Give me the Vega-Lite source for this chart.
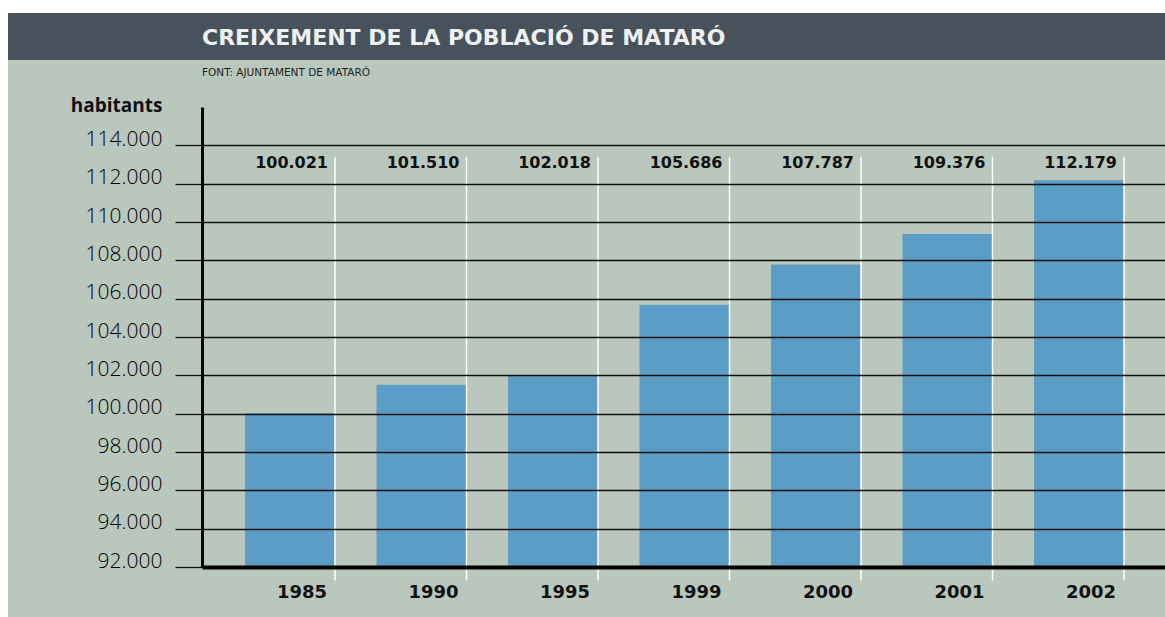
{
  "$schema": "https://vega.github.io/schema/vega-lite/v6.json",
  "background": "white",
  "padding": {"left": 8, "top": 13, "right": 0, "bottom": 0},
  "spacing": 0,
  "bounds": "flush",
  "config": {
    "locale": {"number": {"decimal": ",", "thousands": ".", "grouping": [3], "currency": ["", " €"]}},
    "font": "Open Sans",
    "view": {"stroke": null},
    "concat": {"spacing": 0}
  },
  "vconcat": [
    {
      "width": 1157,
      "height": 47,
      "view": {"fill": "#48525c", "stroke": null},
      "title": {
        "text": "CREIXEMENT DE LA POBLACIÓ DE MATARÓ",
        "anchor": "start",
        "frame": "group",
        "dx": 194,
        "offset": -54,
        "baseline": "alphabetic",
        "font": "DejaVu Sans",
        "fontSize": 22,
        "fontWeight": "bold",
        "color": "#eef1f1"
      },
      "data": {"values": [{"t": ""}]},
      "mark": {"type": "text"},
      "encoding": {"text": {"field": "t", "type": "nominal"}}
    },
    {
      "spacing": 0,
      "bounds": "flush",
      "hconcat": [
        {
          "width": 194,
          "height": 557,
          "view": {"fill": "#bac7bd", "stroke": null},
          "data": {"values": [{"t": ""}]},
          "mark": {"type": "text"},
          "encoding": {"text": {"field": "t", "type": "nominal"}}
        },
        {
          "width": 963,
          "height": 557,
          "view": {"fill": "#bac7bd", "stroke": null},
          "title": {
            "text": "FONT: AJUNTAMENT DE MATARÓ",
            "anchor": "start",
            "frame": "group",
            "offset": -26,
            "baseline": "alphabetic",
            "font": "DejaVu Sans",
            "fontSize": 10.5,
            "fontWeight": "normal",
            "color": "#1e1e1e"
          },
          "data": {
            "values": [
              {"any": "1985", "habitants": 100021},
              {"any": "1990", "habitants": 101510},
              {"any": "1995", "habitants": 102018},
              {"any": "1999", "habitants": 105686},
              {"any": "2000", "habitants": 107787},
              {"any": "2001", "habitants": 109376},
              {"any": "2002", "habitants": 112179}
            ]
          },
          "encoding": {
            "x": {
              "field": "any",
              "type": "ordinal",
              "scale": {"type": "band", "paddingInner": 0.3156, "paddingOuter": 0.3194, "align": 0.512},
              "axis": {
                "title": null,
                "orient": "bottom",
                "offset": -50,
                "ticks": false,
                "labelAlign": "right",
                "labelOffset": 37,
                "labelPadding": 30,
                "labelBaseline": "alphabetic",
                "labelFont": "DejaVu Sans",
                "labelFontSize": 18,
                "labelFontWeight": "bold",
                "labelColor": "#111",
                "labelAngle": 0,
                "domainColor": "#000",
                "domainWidth": 4,
                "grid": false,
                "zindex": 1
              }
            }
          },
          "layer": [
            {
              "mark": {"type": "bar", "color": "#5b9dc4"},
              "encoding": {
                "y": {
                  "field": "habitants",
                  "type": "quantitative",
                  "scale": {"domain": [92000, 116000], "range": [507, 47], "zero": false, "nice": false},
                  "axis": {
                    "title": "habitants",
                    "titleAngle": 0,
                    "titleAlign": "right",
                    "titleBaseline": "alphabetic",
                    "titleX": -40,
                    "titleY": 51,
                    "titleFont": "Open Sans",
                    "titleFontSize": 19,
                    "titleFontWeight": "bold",
                    "titleColor": "#111",
                    "values": [92000, 94000, 96000, 98000, 100000, 102000, 104000, 106000, 108000, 110000, 112000, 114000],
                    "format": ",d",
                    "labelFont": "Open Sans",
                    "labelFontSize": 21,
                    "labelFontWeight": 300,
                    "labelColor": "#000",
                    "labelBaseline": "alphabetic",
                    "labelPadding": 13,
                    "labelOverlap": false,
                    "tickSize": 27,
                    "tickColor": "#111",
                    "tickWidth": 1.3,
                    "grid": true,
                    "gridColor": "#111",
                    "gridWidth": 1.3,
                    "gridOpacity": 1,
                    "domainColor": "#000",
                    "domainWidth": 3,
                    "zindex": 1
                  }
                },
                "y2": {"datum": 92000}
              }
            },
            {
              "mark": {"type": "rule", "color": "#ffffff", "strokeWidth": 1.5},
              "encoding": {
                "x": {"field": "any", "type": "ordinal", "bandPosition": 1},
                "y": {"datum": 113400, "type": "quantitative"},
                "y2": {"datum": 91300}
              }
            },
            {
              "mark": {"type": "text", "align": "right", "baseline": "middle", "dx": -7, "fontSize": 16, "fontWeight": "bold", "color": "#111", "font": "DejaVu Sans"},
              "encoding": {
                "x": {"field": "any", "type": "ordinal", "bandPosition": 1},
                "y": {"datum": 113100, "type": "quantitative"},
                "text": {"field": "habitants", "type": "quantitative", "format": ",d"}
              }
            }
          ]
        }
      ]
    }
  ]
}
